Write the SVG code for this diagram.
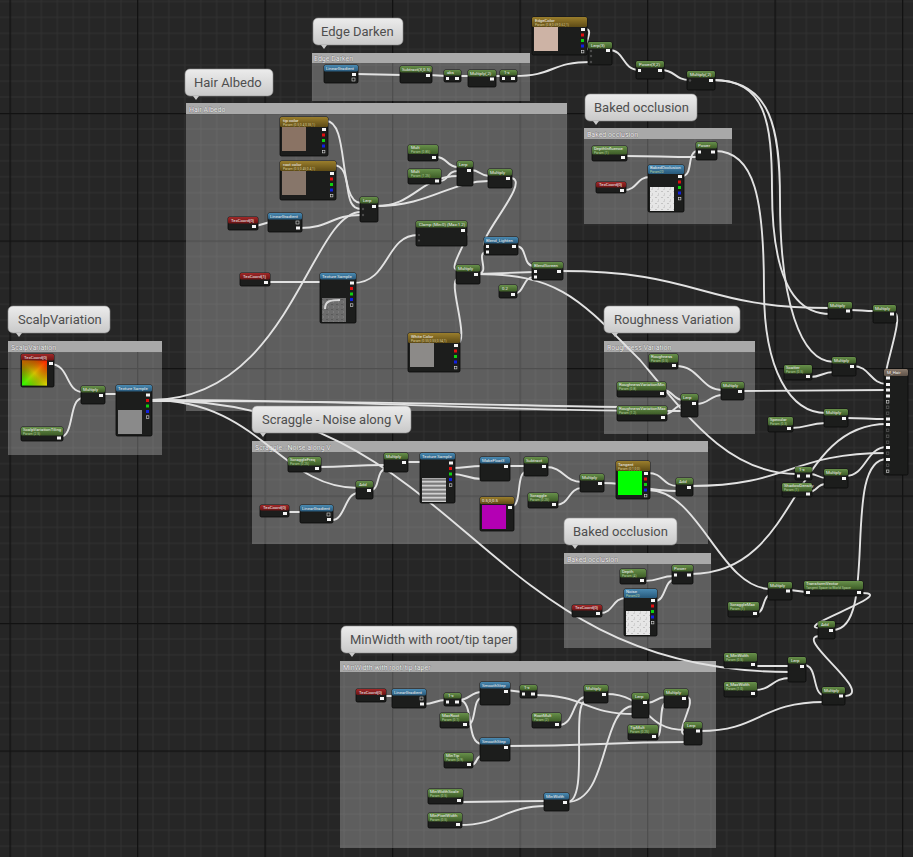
<svg xmlns="http://www.w3.org/2000/svg" width="913" height="857" viewBox="0 0 913 857">
<defs>
<style>
.nb{fill:#1c1d1c;stroke:#0a0a0a;stroke-width:.8}
.hg{fill:url(#gG)}.hr{fill:url(#gR)}.hb{fill:url(#gB)}.hy{fill:url(#gY)}.hm{fill:url(#gM)}
.nt{font-family:Roboto,"Liberation Sans",sans-serif;font-size:4.3px;fill:#f2f2f2}
.ns{font-family:Roboto,"Liberation Sans",sans-serif;font-size:3.3px;fill:#b9d6a0}
.nsy{font-family:Roboto,"Liberation Sans",sans-serif;font-size:3.3px;fill:#dccf96}
.po{fill:#f4f4f4}
.pi{fill:#4c4c4c}
.w{fill:none;stroke:#e2e2e2;stroke-width:1.9;stroke-linecap:round}
.cb{fill:#fff;fill-opacity:.26}
.ch{fill:#a9a9a9}
.ct{font-family:Roboto,"Liberation Sans",sans-serif;font-size:7px;fill:#f6f6f6;stroke:#5a5a5a;stroke-width:.5;paint-order:stroke}
.bb{fill:url(#gBub);stroke:#8e8e8e;stroke-width:.6}
.bt{font-family:Roboto,"Liberation Sans",sans-serif;font-size:13px;fill:#4e4e4e}
</style>
<linearGradient id="gG" x1="0" y1="0" x2="0" y2="1"><stop offset="0" stop-color="#67904a"/><stop offset="1" stop-color="#3d5c27"/></linearGradient>
<linearGradient id="gR" x1="0" y1="0" x2="0" y2="1"><stop offset="0" stop-color="#a02828"/><stop offset="1" stop-color="#6a1414"/></linearGradient>
<linearGradient id="gB" x1="0" y1="0" x2="0" y2="1"><stop offset="0" stop-color="#4a8ab2"/><stop offset="1" stop-color="#27587a"/></linearGradient>
<linearGradient id="gY" x1="0" y1="0" x2="0" y2="1"><stop offset="0" stop-color="#9a7e2c"/><stop offset="1" stop-color="#5e4b16"/></linearGradient>
<linearGradient id="gM" x1="0" y1="0" x2="0" y2="1"><stop offset="0" stop-color="#8a7a6c"/><stop offset="1" stop-color="#5e5248"/></linearGradient>
<linearGradient id="gBub" x1="0" y1="0" x2="0" y2="1"><stop offset="0" stop-color="#ececec"/><stop offset="1" stop-color="#c9c9c9"/></linearGradient>
<linearGradient id="gUV" x1="1" y1="0" x2="0" y2="1"><stop offset="0" stop-color="#ff1a00"/><stop offset=".5" stop-color="#d8c000"/><stop offset="1" stop-color="#22ff00"/></linearGradient>
<linearGradient id="gUV2" x1="0" y1="0" x2="1" y2="1"><stop offset="0" stop-color="#c03000" stop-opacity=".7"/><stop offset=".5" stop-color="#000" stop-opacity="0"/><stop offset="1" stop-color="#e8ff00" stop-opacity=".5"/></linearGradient>
<pattern id="grid" x="9.5" y="113" width="127.5" height="127.5" patternUnits="userSpaceOnUse">
<rect width="127.5" height="127.5" fill="#262626"/>
<path d="M15.94 0V127.5M31.88 0V127.5M47.81 0V127.5M63.75 0V127.5M79.69 0V127.5M95.63 0V127.5M111.56 0V127.5M0 15.94H127.5M0 31.88H127.5M0 47.81H127.5M0 63.75H127.5M0 79.69H127.5M0 95.63H127.5M0 111.56H127.5" stroke="#313131" stroke-width="1"/>
<path d="M0 .5H127.5M.5 0V127.5" stroke="#121212" stroke-width="1.6"/>
</pattern>
<pattern id="noise" width="6" height="6" patternUnits="userSpaceOnUse">
<rect width="6" height="6" fill="#e6e6e6"/><rect x="1" y="2" width="2" height="1" fill="#c4c4c4"/><rect x="4" y="4" width="1" height="2" fill="#cfcfcf"/><rect x="3" y="0" width="2" height="1" fill="#d2d2d2"/>
</pattern>
<pattern id="gnoise" width="5" height="5" patternUnits="userSpaceOnUse">
<rect width="5" height="5" fill="#6d6d6d"/><rect x="1" y="1" width="2" height="1" fill="#5a5a5a"/><rect x="3" y="3" width="1" height="2" fill="#7c7c7c"/>
</pattern>
<pattern id="stripes" width="24" height="4" patternUnits="userSpaceOnUse">
<rect width="24" height="4" fill="#9a9a9a"/><rect y="0" width="24" height="1.3" fill="#d0d0d0"/><rect y="2.3" width="24" height="1" fill="#6e6e6e"/>
</pattern>
<g id="rgbp"><rect class="po" width="4" height="3"/><rect y="5.5" width="3" height="3" fill="#e01010"/><rect y="11" width="3" height="3" fill="#10d010"/><rect y="16.5" width="3" height="3" fill="#1020e0"/><rect x=".3" y="22.3" width="2.6" height="2.6" fill="none" stroke="#ddd" stroke-width=".6"/></g>
</defs>

<rect width="913" height="857" fill="url(#grid)"/>

<g id="comments">
<rect class="cb" x="312" y="53" width="218" height="48"/><rect class="ch" x="312" y="53" width="218" height="10"/><text class="ct" x="314" y="61">Edge Darken</text>
<rect class="cb" x="186" y="103" width="381" height="308"/><rect class="ch" x="186" y="103" width="381" height="11"/><text class="ct" x="189" y="112">Hair Albedo</text>
<rect class="cb" x="584" y="128" width="148" height="96"/><rect class="ch" x="584" y="128" width="148" height="11"/><text class="ct" x="587" y="137">Baked occlusion</text>
<rect class="cb" x="8" y="341" width="154" height="114"/><rect class="ch" x="8" y="341" width="154" height="11"/><text class="ct" x="11" y="350">ScalpVariation</text>
<rect class="cb" x="604" y="341" width="151" height="93"/><rect class="ch" x="604" y="341" width="151" height="11"/><text class="ct" x="607" y="350">Roughness Variation</text>
<rect class="cb" x="252" y="441" width="456" height="103"/><rect class="ch" x="252" y="441" width="456" height="11"/><text class="ct" x="255" y="450">Scraggle - Noise along V</text>
<rect class="cb" x="564" y="553" width="147" height="95"/><rect class="ch" x="564" y="553" width="147" height="11"/><text class="ct" x="567" y="562">Baked occlusion</text>
<rect class="cb" x="340" y="661" width="376" height="187"/><rect class="ch" x="340" y="661" width="376" height="11"/><text class="ct" x="343" y="670">MinWidth with root/tip taper</text>
</g>

<g id="connectors">
<path class="w" d="M585,29 C597,29 578,50 591,50"/>
<path class="w" d="M514,76 C555,76 550,62 591,62"/>
<path class="w" d="M609,50 C625,50 622,70 639,70"/>
<path class="w" d="M661,70 C676,70 674,80 690,80"/>
<path class="w" d="M356,74 L402,75"/>
<path class="w" d="M429,75 L447,76"/>
<path class="w" d="M458,76 L471,76"/>
<path class="w" d="M493,76 L503,76"/>
<path class="w" d="M713,80 C765,80 772,120 772,190 C772,270 790,314 830,314"/>
<path class="w" d="M713,80 C772,80 780,130 780,200 C780,300 800,362 834,362"/>
<path class="w" d="M715,151 C755,151 764,200 764,290 C764,370 790,413 826,413"/>
<path class="w" d="M326,121 C350,121 337,203 361,203"/>
<path class="w" d="M333,165 C355,165 340,209 361,209"/>
<path class="w" d="M300,228 C330,228 331,215 361,215"/>
<path class="w" d="M256,226 L270,222"/>
<path class="w" d="M376,206 C415,206 420,176 458,176"/>
<path class="w" d="M376,206 C430,206 450,181 489,181"/>
<path class="w" d="M436,157 C448,157 446,167 458,167"/>
<path class="w" d="M439,181 C450,181 446,171 458,171"/>
<path class="w" d="M471,170 C480,170 480,176 489,176"/>
<path class="w" d="M510,178 C535,178 470,246 487,246"/>
<path class="w" d="M477,274 C492,274 474,252 487,252"/>
<path class="w" d="M462,230 C478,230 444,270 458,270"/>
<path class="w" d="M456,344 C472,344 446,279 458,279"/>
<path class="w" d="M516,246 C528,246 522,266 534,266"/>
<path class="w" d="M477,274 L534,272"/>
<path class="w" d="M513,294 C525,294 522,277 534,277"/>
<path class="w" d="M561,271 C700,271 700,308 830,308"/>
<path class="w" d="M477,274 C560,274 580,300 640,360 C690,420 730,474 797,474"/>
<path class="w" d="M267,282 L322,282"/>
<path class="w" d="M353,283 C390,283 385,235 418,235"/>
<path class="w" d="M151,400 C290,400 310,212 361,212"/>
<path class="w" d="M50,364 C70,364 65,392 83,392"/>
<path class="w" d="M60,437 C75,437 68,398 83,398"/>
<path class="w" d="M102,394 L118,394"/>
<path class="w" d="M151,400 C400,400 450,411 683,411"/>
<path class="w" d="M151,401 C380,401 480,405 620,407"/>
<path class="w" d="M151,400 C260,400 280,488 358,488"/>
<path class="w" d="M151,400 C470,400 470,672 790,672"/>
<path class="w" d="M625,156 C660,156 660,157 698,157"/>
<path class="w" d="M624,190 C638,190 636,177 650,177"/>
<path class="w" d="M682,176 C694,176 686,151 698,151"/>
<path class="w" d="M663,390 C673,390 673,400 683,400"/>
<path class="w" d="M665,414 C674,414 674,405 683,405"/>
<path class="w" d="M676,366 C700,366 700,390 723,390"/>
<path class="w" d="M696,404 C710,404 709,395 723,395"/>
<path class="w" d="M742,391 L887,390"/>
<path class="w" d="M850,310 C862,310 862,311 875,311"/>
<path class="w" d="M894,313 C906,313 880,378 887,378"/>
<path class="w" d="M810,377 C822,377 822,372 834,372"/>
<path class="w" d="M853,366 C870,366 870,384 887,384"/>
<path class="w" d="M791,428 C808,428 808,423 826,423"/>
<path class="w" d="M846,418 C866,418 866,419 887,419"/>
<path class="w" d="M810,474 C818,474 818,478 826,478"/>
<path class="w" d="M808,492 C818,492 816,484 826,484"/>
<path class="w" d="M846,476 C866,476 866,447 887,447"/>
<path class="w" d="M318,467 C350,467 350,465 386,465"/>
<path class="w" d="M371,490 C380,490 376,469 386,469"/>
<path class="w" d="M287,512 L302,512"/>
<path class="w" d="M332,520 C345,520 345,493 358,493"/>
<path class="w" d="M406,462 L422,462"/>
<path class="w" d="M452,468 C466,468 468,466 482,466"/>
<path class="w" d="M452,474 C466,474 468,479 482,479"/>
<path class="w" d="M508,466 L526,466"/>
<path class="w" d="M512,506 C522,506 516,472 526,472"/>
<path class="w" d="M546,467 C564,467 564,482 582,482"/>
<path class="w" d="M556,505 C570,505 568,488 582,488"/>
<path class="w" d="M602,483 C640,483 640,491 678,491"/>
<path class="w" d="M648,473 C664,473 662,486 678,486"/>
<path class="w" d="M691,486 C790,486 790,453 887,453"/>
<path class="w" d="M648,490 C700,490 720,589 771,589"/>
<path class="w" d="M600,613 C614,613 612,598 626,598"/>
<path class="w" d="M644,581 C660,581 660,576 674,576"/>
<path class="w" d="M655,601 C666,601 664,580 674,580"/>
<path class="w" d="M691,574 C800,574 790,424 887,424"/>
<path class="w" d="M790,590 L806,592"/>
<path class="w" d="M757,613 C765,613 762,595 771,595"/>
<path class="w" d="M862,593 C900,593 790,628 820,628"/>
<path class="w" d="M833,630 C880,630 840,459 887,459"/>
<path class="w" d="M843,696 C880,696 790,636 820,636"/>
<path class="w" d="M753,666 L790,666"/>
<path class="w" d="M755,690 C772,690 772,678 790,678"/>
<path class="w" d="M804,665 C818,665 812,695 824,695"/>
<path class="w" d="M700,731 C760,731 760,702 824,702"/>
<path class="w" d="M384,696 L394,696"/>
<path class="w" d="M424,704 C435,704 435,700 446,700"/>
<path class="w" d="M459,700 C470,700 470,692 482,692"/>
<path class="w" d="M459,700 C475,700 465,744 482,744"/>
<path class="w" d="M467,725 C477,725 472,698 482,698"/>
<path class="w" d="M471,765 C478,765 475,756 482,756"/>
<path class="w" d="M506,690 L522,692"/>
<path class="w" d="M535,695 C585,695 585,714 634,714"/>
<path class="w" d="M559,725 C575,725 572,697 586,697"/>
<path class="w" d="M606,694 C650,694 640,730 686,730"/>
<path class="w" d="M567,802 C590,802 570,701 586,701"/>
<path class="w" d="M567,802 C610,802 600,706 634,706"/>
<path class="w" d="M647,703 C656,703 656,697 666,697"/>
<path class="w" d="M656,737 C664,737 658,703 666,703"/>
<path class="w" d="M686,697 C700,697 672,735 686,735"/>
<path class="w" d="M506,746 C600,746 600,742 686,742"/>
<path class="w" d="M461,802 C500,802 505,801 546,801"/>
<path class="w" d="M460,825 C500,825 505,806 546,806"/>
</g>

<g id="nodes">
<g id="n-edgecolor" transform="translate(532,17)"><rect class="nb" width="55" height="38" rx="1.5"/><rect class="hy" width="55" height="10" rx="1.5"/><text class="nt" x="3" y="4.6">EdgeColor</text><text class="nsy" x="3" y="8.7">Param (0.8,0.69,0.62,1)</text><rect x="2" y="10" width="24" height="24" fill="#cdb3a5"/><use href="#rgbp" x="49" y="11"/></g>
<g id="n-lerp-top" transform="translate(588,42)"><rect class="nb" width="24" height="23" rx="1.5"/><rect class="hg" width="24" height="6.5" rx="1.5"/><text class="nt" x="3" y="4.8">Lerp(3)</text><rect class="po" x="18" y="7" width="4" height="3"/><circle class="pi" cx="3" cy="9" r="1.2"/><circle class="pi" cx="3" cy="14" r="1.2"/><circle class="pi" cx="3" cy="20" r="1.2"/></g>
<g id="n-power-top" transform="translate(636,61)"><rect class="nb" width="28" height="18" rx="1.5"/><rect class="hg" width="28" height="6.5" rx="1.5"/><text class="nt" x="3" y="4.8">Power(X,2)</text><rect class="po" x="22" y="8" width="4" height="3"/><rect class="po" x="2" y="8" width="3" height="3"/></g>
<g id="n-mul-top" transform="translate(687,71)"><rect class="nb" width="28" height="19" rx="1.5"/><rect class="hg" width="28" height="6.5" rx="1.5"/><text class="nt" x="3" y="4.8">Multiply(,2)</text><rect class="po" x="22" y="8" width="4" height="3"/><circle class="pi" cx="3" cy="9.5" r="1.2"/></g>

<g id="n-ed-lingrad" transform="translate(324,65)"><rect class="nb" width="34" height="18" rx="1.5"/><rect class="hb" width="34" height="6.5" rx="1.5"/><text class="nt" x="2" y="4.8">LinearGradient</text><rect class="po" x="28" y="8" width="4" height="3"/><rect x="28" y="13" width="3" height="3" fill="none" stroke="#ddd" stroke-width=".6"/></g>
<g id="n-ed-sub" transform="translate(400,66)"><rect class="nb" width="32" height="17" rx="1.5"/><rect class="hg" width="32" height="6.5" rx="1.5"/><text class="nt" x="2" y="4.8">Subtract(X,0.5)</text><rect class="po" x="26" y="8" width="4" height="3"/></g>
<g id="n-ed-abs" transform="translate(444,70)"><rect class="nb" width="17" height="12" rx="1.5"/><rect class="hg" width="17" height="5.5" rx="1.5"/><text class="nt" x="3" y="4.3">abs</text><rect class="po" x="2" y="7" width="3" height="3"/><rect class="po" x="11" y="7" width="4" height="3"/></g>
<g id="n-ed-mul" transform="translate(468,70)"><rect class="nb" width="28" height="17" rx="1.5"/><rect class="hg" width="28" height="6.5" rx="1.5"/><text class="nt" x="2" y="4.8">Multiply(,2)</text><rect class="po" x="22" y="7.5" width="4" height="3"/></g>
<g id="n-ed-1x" transform="translate(500,70)"><rect class="nb" width="17" height="12" rx="1.5"/><rect class="hg" width="17" height="5.5" rx="1.5"/><text class="nt" x="4" y="4.3">1-x</text><rect class="po" x="2" y="7" width="3" height="3"/><rect class="po" x="11" y="7" width="4" height="3"/></g>

<g id="n-tipcolor" transform="translate(280,117)"><rect class="nb" width="48" height="39" rx="1.5"/><rect class="hy" width="48" height="10" rx="1.5"/><text class="nt" x="3" y="4.6">tip color</text><text class="nsy" x="3" y="8.7">Param (0.5,0.4,0.35,1)</text><rect x="2" y="10" width="24" height="24" fill="#8a7364"/><use href="#rgbp" x="42" y="11"/></g>
<g id="n-rootcolor" transform="translate(280,161)"><rect class="nb" width="56" height="39" rx="1.5"/><rect class="hy" width="56" height="10" rx="1.5"/><text class="nt" x="3" y="4.6">root color</text><text class="nsy" x="3" y="8.7">Param (0.5,0.45,0.4,1)</text><rect x="2" y="10" width="24" height="24" fill="#87766a"/><use href="#rgbp" x="50" y="11"/></g>
<g id="n-ha-lerp" transform="translate(360,197)"><rect class="nb" width="18" height="25" rx="1.5"/><rect class="hg" width="18" height="6.5" rx="1.5"/><text class="nt" x="3" y="4.8">Lerp</text><rect class="po" x="12" y="8" width="4" height="3"/><circle class="pi" cx="3" cy="12" r="1.2"/><circle class="pi" cx="3" cy="18" r="1.2"/></g>
<g id="n-ha-tc0" transform="translate(228,217)"><rect class="nb" width="30" height="13" rx="1.5"/><rect class="hr" width="30" height="6.5" rx="1.5"/><text class="nt" x="3" y="4.8">TexCoord[0]</text><rect class="po" x="24" y="8" width="4" height="3"/></g>
<g id="n-ha-lingrad" transform="translate(268,213)"><rect class="nb" width="34" height="19" rx="1.5"/><rect class="hb" width="34" height="6.5" rx="1.5"/><text class="nt" x="2" y="4.8">LinearGradient</text><rect x="28" y="8" width="3" height="3" fill="none" stroke="#ddd" stroke-width=".6"/><rect class="po" x="28" y="13.5" width="4" height="3"/></g>
<g id="n-ha-mult1" transform="translate(408,145)"><rect class="nb" width="30" height="16" rx="1.5"/><rect class="hg" width="30" height="9" rx="1.5"/><text class="nt" x="3" y="4.4">Mult</text><text class="ns" x="3" y="8">Param (0.85)</text><rect class="po" x="24" y="11" width="4" height="3"/></g>
<g id="n-ha-mult2" transform="translate(408,169)"><rect class="nb" width="33" height="15" rx="1.5"/><rect class="hg" width="33" height="9" rx="1.5"/><text class="nt" x="3" y="4.4">Mult</text><text class="ns" x="3" y="8">Param (1.25)</text><rect class="po" x="27" y="10.5" width="4" height="3"/></g>
<g id="n-ha-lerp2" transform="translate(457,161)"><rect class="nb" width="16" height="25" rx="1.5"/><rect class="hg" width="16" height="6.5" rx="1.5"/><text class="nt" x="2" y="4.8">Lerp</text><rect class="po" x="10" y="8" width="4" height="3"/></g>
<g id="n-ha-mul" transform="translate(488,169)"><rect class="nb" width="24" height="19" rx="1.5"/><rect class="hg" width="24" height="6.5" rx="1.5"/><text class="nt" x="2" y="4.8">Multiply</text><rect class="po" x="18" y="8" width="4" height="3"/></g>
<g id="n-ha-clamp" transform="translate(416,221)"><rect class="nb" width="51" height="25" rx="1.5"/><rect class="hg" width="51" height="6.5" rx="1.5"/><text class="nt" x="3" y="4.8">Clamp (Min:0) (Max:1.2)</text><rect class="po" x="45" y="8" width="4" height="3"/><circle class="pi" cx="3" cy="14" r="1.1"/><circle class="pi" cx="3" cy="19.5" r="1.1"/></g>
<g id="n-ha-blend" transform="translate(484,237)"><rect class="nb" width="34" height="18" rx="1.5"/><rect class="hb" width="34" height="6.5" rx="1.5"/><text class="nt" x="2" y="4.8">Blend_Lighten</text><rect class="po" x="2" y="8" width="3" height="3"/><rect class="po" x="2" y="13.5" width="3" height="3"/><rect class="po" x="28" y="8" width="4" height="3"/></g>
<g id="n-ha-tc1" transform="translate(240,273)"><rect class="nb" width="30" height="13" rx="1.5"/><rect class="hr" width="30" height="6.5" rx="1.5"/><text class="nt" x="3" y="4.8">TexCoord[1]</text><rect class="po" x="24" y="8" width="4" height="3"/></g>
<g id="n-ha-tex" transform="translate(320,273)"><rect class="nb" width="36" height="50" rx="1.5"/><rect class="hb" width="36" height="6.5" rx="1.5"/><text class="nt" x="2" y="4.8">Texture Sample</text><rect x="2" y="25" width="24" height="24" fill="url(#gnoise)"/><path d="M5,36 C5,28 10,27 20,27" fill="none" stroke="#d8d8d8" stroke-width="2"/><use href="#rgbp" x="30" y="8.5"/></g>
<g id="n-ha-mul2" transform="translate(456,265)"><rect class="nb" width="24" height="19" rx="1.5"/><rect class="hg" width="24" height="6.5" rx="1.5"/><text class="nt" x="2" y="4.8">Multiply</text><rect class="po" x="18" y="8" width="4" height="3"/></g>
<g id="n-ha-lerp3" transform="translate(532,262)"><rect class="nb" width="31" height="18" rx="1.5"/><rect class="hg" width="31" height="6.5" rx="1.5"/><text class="nt" x="2" y="4.8">BlendScreen</text><rect class="po" x="2" y="8" width="3" height="3"/><rect class="po" x="2" y="13.5" width="3" height="3"/><rect class="po" x="25" y="8" width="4" height="3"/></g>
<g id="n-ha-const" transform="translate(499,285)"><rect class="nb" width="18" height="13" rx="1.5"/><rect class="hg" width="18" height="6.5" rx="1.5"/><text class="nt" x="3" y="4.8">0.2</text><rect class="po" x="12" y="8" width="4" height="3"/></g>
<g id="n-ha-white" transform="translate(408,333)"><rect class="nb" width="52" height="39" rx="1.5"/><rect class="hy" width="52" height="10" rx="1.5"/><text class="nt" x="3" y="4.6">White Color</text><text class="nsy" x="3" y="8.7">Param (0.55,0.55,0.54,1)</text><rect x="2" y="10" width="24" height="24" fill="#8c8a88"/><use href="#rgbp" x="46" y="11"/></g>

<g id="n-sv-tc" transform="translate(21,354)"><rect class="nb" width="33" height="33" rx="1.5"/><rect class="hr" width="33" height="6.5" rx="1.5"/><text class="nt" x="3" y="4.8">TexCoord[0]</text><rect x="1" y="6.5" width="25" height="25" fill="url(#gUV)"/><rect x="1" y="6.5" width="25" height="25" fill="url(#gUV2)"/><rect class="po" x="28" y="8" width="4" height="3"/></g>
<g id="n-sv-mul" transform="translate(81,386)"><rect class="nb" width="24" height="18" rx="1.5"/><rect class="hg" width="24" height="6.5" rx="1.5"/><text class="nt" x="2" y="4.8">Multiply</text><rect class="po" x="18" y="8" width="4" height="3"/></g>
<g id="n-sv-tiling" transform="translate(21,427)"><rect class="nb" width="42" height="14" rx="1.5"/><rect class="hg" width="42" height="8.5" rx="1.5"/><text class="nt" x="2" y="4.4">ScalpVariationTiling</text><text class="ns" x="2" y="7.9">Param (2.5)</text><rect class="po" x="36" y="9.5" width="4" height="3"/></g>
<g id="n-sv-tex" transform="translate(116,385)"><rect class="nb" width="36" height="51" rx="1.5"/><rect class="hb" width="36" height="6.5" rx="1.5"/><text class="nt" x="2" y="4.8">Texture Sample</text><rect x="2" y="25" width="24" height="24" fill="#8a8a8a"/><use href="#rgbp" x="30" y="8.5"/></g>

<g id="n-bo1-param" transform="translate(592,146)"><rect class="nb" width="35" height="15" rx="1.5"/><rect class="hg" width="35" height="8.5" rx="1.5"/><text class="nt" x="2" y="4.4">DepthInfluence</text><text class="ns" x="2" y="7.9">Param (1)</text><rect class="po" x="29" y="10" width="4" height="3"/></g>
<g id="n-bo1-tc" transform="translate(596,182)"><rect class="nb" width="30" height="11" rx="1.5"/><rect class="hr" width="30" height="5.5" rx="1.5"/><text class="nt" x="3" y="4.3">TexCoord[0]</text><rect class="po" x="24" y="7" width="4" height="3"/></g>
<g id="n-bo1-tex" transform="translate(648,165)"><rect class="nb" width="36" height="47" rx="1.5"/><rect class="hb" width="36" height="9" rx="1.5"/><text class="nt" x="2" y="4.4">BakedOcclusion</text><text class="ns" x="2" y="7.9" fill="#a8d0ec">Param2D</text><rect x="2" y="22" width="24" height="24" fill="url(#noise)"/><use href="#rgbp" x="30" y="10"/></g>
<g id="n-bo1-pow" transform="translate(696,142)"><rect class="nb" width="21" height="18" rx="1.5"/><rect class="hg" width="21" height="6.5" rx="1.5"/><text class="nt" x="2" y="4.8">Power</text><rect class="po" x="2" y="8.5" width="3" height="3"/><rect class="po" x="15" y="8.5" width="4" height="3"/></g>

<g id="n-rv-rough" transform="translate(649,354)"><rect class="nb" width="29" height="15" rx="1.5"/><rect class="hg" width="29" height="8.5" rx="1.5"/><text class="nt" x="2" y="4.4">Roughness</text><text class="ns" x="2" y="7.9">Param (0.5)</text><rect class="po" x="23" y="10" width="4" height="3"/></g>
<g id="n-rv-min" transform="translate(617,382)"><rect class="nb" width="49" height="15" rx="1.5"/><rect class="hg" width="49" height="8.5" rx="1.5"/><text class="nt" x="2" y="4.4">RoughnessVariationMin</text><text class="ns" x="2" y="7.9">Param (0.8)</text><rect class="po" x="43" y="10" width="4" height="3"/></g>
<g id="n-rv-max" transform="translate(617,406)"><rect class="nb" width="50" height="15" rx="1.5"/><rect class="hg" width="50" height="8.5" rx="1.5"/><text class="nt" x="2" y="4.4">RoughnessVariationMax</text><text class="ns" x="2" y="7.9">Param (1.2)</text><rect class="po" x="44" y="10" width="4" height="3"/></g>
<g id="n-rv-lerp" transform="translate(681,394)"><rect class="nb" width="17" height="23" rx="1.5"/><rect class="hg" width="17" height="6.5" rx="1.5"/><text class="nt" x="2" y="4.8">Lerp</text><rect class="po" x="11" y="8" width="4" height="3"/></g>
<g id="n-rv-mul" transform="translate(721,382)"><rect class="nb" width="23" height="18" rx="1.5"/><rect class="hg" width="23" height="6.5" rx="1.5"/><text class="nt" x="2" y="4.8">Multiply</text><rect class="po" x="17" y="8" width="4" height="3"/></g>

<g id="n-r-mul1" transform="translate(828,302)"><rect class="nb" width="24" height="17" rx="1.5"/><rect class="hg" width="24" height="6.5" rx="1.5"/><text class="nt" x="2" y="4.8">Multiply</text><rect class="po" x="18" y="7.5" width="4" height="3"/></g>
<g id="n-r-mul2" transform="translate(873,305)"><rect class="nb" width="23" height="18" rx="1.5"/><rect class="hg" width="23" height="6.5" rx="1.5"/><text class="nt" x="2" y="4.8">Multiply</text><rect class="po" x="17" y="7.5" width="4" height="3"/></g>
<g id="n-r-scatter" transform="translate(784,365)"><rect class="nb" width="28" height="15" rx="1.5"/><rect class="hg" width="28" height="8.5" rx="1.5"/><text class="nt" x="2" y="4.4">Scatter</text><text class="ns" x="2" y="7.9">Param (0.5)</text><rect class="po" x="22" y="10" width="4" height="3"/></g>
<g id="n-r-mul3" transform="translate(832,357)"><rect class="nb" width="24" height="19" rx="1.5"/><rect class="hg" width="24" height="6.5" rx="1.5"/><text class="nt" x="2" y="4.8">Multiply</text><rect class="po" x="18" y="8" width="4" height="3"/></g>
<g id="n-r-spec" transform="translate(768,417)"><rect class="nb" width="25" height="15" rx="1.5"/><rect class="hg" width="25" height="8.5" rx="1.5"/><text class="nt" x="2" y="4.4">Specular</text><text class="ns" x="2" y="7.9">Param (0.3)</text><rect class="po" x="19" y="10" width="4" height="3"/></g>
<g id="n-r-mul4" transform="translate(824,409)"><rect class="nb" width="24" height="18" rx="1.5"/><rect class="hg" width="24" height="6.5" rx="1.5"/><text class="nt" x="2" y="4.8">Multiply</text><rect class="po" x="18" y="8" width="4" height="3"/></g>
<g id="n-mhair" transform="translate(884,369)"><rect class="nb" width="24" height="106" rx="1.5"/><rect class="hm" width="24" height="7" rx="1.5"/><text class="nt" x="3" y="5">M_Hair</text>
<rect class="po" x="2" y="7.5" width="4" height="3"/><rect class="po" x="2" y="14" width="4" height="3"/><rect class="po" x="2" y="19.5" width="4" height="3"/><rect class="po" x="2" y="25.5" width="4" height="3"/><rect x="2.3" y="31.5" width="2.6" height="2.6" fill="none" stroke="#ddd" stroke-width=".6"/><rect x="2.3" y="37" width="2.6" height="2.6" fill="none" stroke="#666" stroke-width=".6"/><rect x="2.3" y="43" width="2.6" height="2.6" fill="none" stroke="#666" stroke-width=".6"/><rect class="po" x="2" y="48.5" width="4" height="3"/><rect class="po" x="2" y="54" width="4" height="3"/><rect x="2.3" y="60" width="2.6" height="2.6" fill="none" stroke="#666" stroke-width=".6"/><rect x="2.3" y="66" width="2.6" height="2.6" fill="none" stroke="#666" stroke-width=".6"/><rect x="2.3" y="72" width="2.6" height="2.6" fill="none" stroke="#666" stroke-width=".6"/><rect class="po" x="2" y="77" width="4" height="3"/><rect x="2.3" y="83" width="2.6" height="2.6" fill="none" stroke="#666" stroke-width=".6"/><rect class="po" x="2" y="89" width="4" height="3"/><rect x="2.3" y="95" width="2.6" height="2.6" fill="none" stroke="#666" stroke-width=".6"/><rect x="2.3" y="101" width="2.6" height="2.6" fill="none" stroke="#ddd" stroke-width=".6"/></g>
<g id="n-r-1x" transform="translate(795,467)"><rect class="nb" width="17" height="13" rx="1.5"/><rect class="hg" width="17" height="5.5" rx="1.5"/><text class="nt" x="4" y="4.3">1-x</text><rect class="po" x="2" y="7.5" width="3" height="3"/><rect class="po" x="11" y="7.5" width="4" height="3"/></g>
<g id="n-r-mul5" transform="translate(824,469)"><rect class="nb" width="24" height="19" rx="1.5"/><rect class="hg" width="24" height="6.5" rx="1.5"/><text class="nt" x="2" y="4.8">Multiply</text><rect class="po" x="18" y="8" width="4" height="3"/></g>
<g id="n-r-shadow" transform="translate(782,483)"><rect class="nb" width="30" height="14" rx="1.5"/><rect class="hg" width="30" height="8.5" rx="1.5"/><text class="nt" x="2" y="4.4">ShadowDensity</text><text class="ns" x="2" y="7.9">Param (1)</text><rect class="po" x="24" y="9.5" width="4" height="3"/></g>

<g id="n-sc-freq" transform="translate(288,457)"><rect class="nb" width="33" height="15" rx="1.5"/><rect class="hg" width="33" height="8.5" rx="1.5"/><text class="nt" x="2" y="4.4">ScraggleFreq</text><text class="ns" x="2" y="7.9">Param (0.25)</text><rect class="po" x="27" y="10" width="4" height="3"/></g>
<g id="n-sc-mul" transform="translate(384,453)"><rect class="nb" width="24" height="19" rx="1.5"/><rect class="hg" width="24" height="6.5" rx="1.5"/><text class="nt" x="2" y="4.8">Multiply</text><rect class="po" x="18" y="8" width="4" height="3"/></g>
<g id="n-sc-add" transform="translate(356,481)"><rect class="nb" width="17" height="18" rx="1.5"/><rect class="hg" width="17" height="6.5" rx="1.5"/><text class="nt" x="3" y="4.8">Add</text><rect class="po" x="11" y="8" width="4" height="3"/></g>
<g id="n-sc-tc" transform="translate(260,505)"><rect class="nb" width="29" height="12" rx="1.5"/><rect class="hr" width="29" height="5.5" rx="1.5"/><text class="nt" x="3" y="4.3">TexCoord[0]</text><rect class="po" x="23" y="7" width="4" height="3"/></g>
<g id="n-sc-lingrad" transform="translate(300,505)"><rect class="nb" width="33" height="18" rx="1.5"/><rect class="hb" width="33" height="6.5" rx="1.5"/><text class="nt" x="2" y="4.8">LinearGradient</text><rect x="27" y="8" width="3" height="3" fill="none" stroke="#ddd" stroke-width=".6"/><rect class="po" x="27" y="13" width="4" height="3"/></g>
<g id="n-sc-tex" transform="translate(420,453)"><rect class="nb" width="35" height="50" rx="1.5"/><rect class="hb" width="35" height="6.5" rx="1.5"/><text class="nt" x="2" y="4.8">Texture Sample</text><rect x="2" y="25" width="24" height="24" fill="url(#stripes)"/><use href="#rgbp" x="29" y="8.5"/></g>
<g id="n-sc-make" transform="translate(480,457)"><rect class="nb" width="30" height="24" rx="1.5"/><rect class="hb" width="30" height="6.5" rx="1.5"/><text class="nt" x="2" y="4.8">MakeFloat3</text><rect class="po" x="24" y="8" width="4" height="3"/></g>
<g id="n-sc-const" transform="translate(480,497)"><rect class="nb" width="34" height="34" rx="1.5"/><rect class="hy" width="34" height="7" rx="1.5"/><text class="nt" x="2" y="4.9">0.5,0,0.5</text><rect x="2" y="8" width="24" height="24" fill="#b400b4"/><rect class="po" x="28" y="9" width="4" height="3"/></g>
<g id="n-sc-sub" transform="translate(524,457)"><rect class="nb" width="24" height="19" rx="1.5"/><rect class="hg" width="24" height="6.5" rx="1.5"/><text class="nt" x="2" y="4.8">Subtract</text><rect class="po" x="18" y="8" width="4" height="3"/></g>
<g id="n-sc-scraggle" transform="translate(528,493)"><rect class="nb" width="30" height="15" rx="1.5"/><rect class="hg" width="30" height="8.5" rx="1.5"/><text class="nt" x="2" y="4.4">Scraggle</text><text class="ns" x="2" y="7.9">Param (0.25)</text><rect class="po" x="24" y="10" width="4" height="3"/></g>
<g id="n-sc-mul2" transform="translate(580,474)"><rect class="nb" width="24" height="18" rx="1.5"/><rect class="hg" width="24" height="6.5" rx="1.5"/><text class="nt" x="2" y="4.8">Multiply</text><rect class="po" x="18" y="8" width="4" height="3"/></g>
<g id="n-sc-tangent" transform="translate(616,461)"><rect class="nb" width="34" height="38" rx="1.5"/><rect class="hy" width="34" height="10" rx="1.5"/><text class="nt" x="2" y="4.6">Tangent</text><text class="nsy" x="2" y="8.7">Param (0,1,0,0)</text><rect x="2" y="10" width="24" height="24" fill="#00ff00"/><use href="#rgbp" x="28" y="11"/></g>
<g id="n-sc-add2" transform="translate(676,478)"><rect class="nb" width="17" height="18" rx="1.5"/><rect class="hg" width="17" height="6.5" rx="1.5"/><text class="nt" x="3" y="4.8">Add</text><rect class="po" x="11" y="8" width="4" height="3"/></g>

<g id="n-bo2-param" transform="translate(620,569)"><rect class="nb" width="26" height="15" rx="1.5"/><rect class="hg" width="26" height="8.5" rx="1.5"/><text class="nt" x="2" y="4.4">Depth</text><text class="ns" x="2" y="7.9">Param (4)</text><rect class="po" x="20" y="10" width="4" height="3"/></g>
<g id="n-bo2-tc" transform="translate(572,605)"><rect class="nb" width="30" height="12" rx="1.5"/><rect class="hr" width="30" height="5.5" rx="1.5"/><text class="nt" x="3" y="4.3">TexCoord[0]</text><rect class="po" x="24" y="7" width="4" height="3"/></g>
<g id="n-bo2-tex" transform="translate(624,589)"><rect class="nb" width="33" height="47" rx="1.5"/><rect class="hb" width="33" height="9" rx="1.5"/><text class="nt" x="2" y="4.4">Noise</text><text class="ns" x="2" y="7.9" fill="#a8d0ec">Param2D</text><rect x="2" y="22" width="24" height="24" fill="url(#noise)"/><use href="#rgbp" x="27" y="10"/></g>
<g id="n-bo2-pow" transform="translate(672,565)"><rect class="nb" width="21" height="19" rx="1.5"/><rect class="hg" width="21" height="6.5" rx="1.5"/><text class="nt" x="2" y="4.8">Power</text><rect class="po" x="2" y="8.5" width="3" height="3"/><rect class="po" x="15" y="8.5" width="4" height="3"/></g>

<g id="n-rb-mul" transform="translate(768,582)"><rect class="nb" width="24" height="18" rx="1.5"/><rect class="hg" width="24" height="6.5" rx="1.5"/><text class="nt" x="2" y="4.8">Multiply</text><rect class="po" x="18" y="7.5" width="4" height="3"/></g>
<g id="n-rb-tv" transform="translate(804,581)"><rect class="nb" width="59" height="15" rx="1.5"/><rect class="hg" width="59" height="8.5" rx="1.5"/><text class="nt" x="2" y="4.4">TransformVector</text><text class="ns" x="2" y="7.9">Tangent Space to World Space</text><rect class="po" x="2" y="10" width="4" height="3"/><rect class="po" x="53" y="10" width="4" height="3"/></g>
<g id="n-rb-smax" transform="translate(728,602)"><rect class="nb" width="31" height="15" rx="1.5"/><rect class="hg" width="31" height="8.5" rx="1.5"/><text class="nt" x="2" y="4.4">ScraggleMax</text><text class="ns" x="2" y="7.9">Param (1)</text><rect class="po" x="25" y="10" width="4" height="3"/></g>
<g id="n-rb-add" transform="translate(818,621)"><rect class="nb" width="17" height="18" rx="1.5"/><rect class="hg" width="17" height="6.5" rx="1.5"/><text class="nt" x="3" y="4.8">Add</text><rect class="po" x="11" y="8" width="4" height="3"/></g>
<g id="n-rb-p1" transform="translate(724,653)"><rect class="nb" width="33" height="15" rx="1.5"/><rect class="hg" width="33" height="8.5" rx="1.5"/><text class="nt" x="2" y="4.4">a_MinWidth</text><text class="ns" x="2" y="7.9">Param (0.5)</text><rect class="po" x="27" y="10" width="4" height="3"/></g>
<g id="n-rb-p2" transform="translate(724,682)"><rect class="nb" width="33" height="15" rx="1.5"/><rect class="hg" width="33" height="8.5" rx="1.5"/><text class="nt" x="2" y="4.4">a_MaxWidth</text><text class="ns" x="2" y="7.9">Param (1.0)</text><rect class="po" x="27" y="10" width="4" height="3"/></g>
<g id="n-rb-lerp" transform="translate(788,657)"><rect class="nb" width="18" height="25" rx="1.5"/><rect class="hg" width="18" height="6.5" rx="1.5"/><text class="nt" x="3" y="4.8">Lerp</text><rect class="po" x="12" y="8" width="4" height="3"/></g>
<g id="n-rb-mul2" transform="translate(822,687)"><rect class="nb" width="23" height="18" rx="1.5"/><rect class="hg" width="23" height="6.5" rx="1.5"/><text class="nt" x="2" y="4.8">Multiply</text><rect class="po" x="17" y="7.5" width="4" height="3"/></g>

<g id="n-mw-tc" transform="translate(356,689)"><rect class="nb" width="30" height="13" rx="1.5"/><rect class="hr" width="30" height="6" rx="1.5"/><text class="nt" x="3" y="4.6">TexCoord[0]</text><rect class="po" x="24" y="8" width="4" height="3"/></g>
<g id="n-mw-lingrad" transform="translate(392,689)"><rect class="nb" width="34" height="19" rx="1.5"/><rect class="hb" width="34" height="6.5" rx="1.5"/><text class="nt" x="2" y="4.8">LinearGradient</text><rect x="28" y="8" width="3" height="3" fill="none" stroke="#ddd" stroke-width=".6"/><rect class="po" x="28" y="13.5" width="4" height="3"/></g>
<g id="n-mw-1x" transform="translate(444,693)"><rect class="nb" width="17" height="13" rx="1.5"/><rect class="hg" width="17" height="5.5" rx="1.5"/><text class="nt" x="4" y="4.3">1-x</text><rect class="po" x="2" y="7.5" width="3" height="3"/><rect class="po" x="11" y="7.5" width="4" height="3"/></g>
<g id="n-mw-ss1" transform="translate(480,682)"><rect class="nb" width="30" height="23" rx="1.5"/><rect class="hb" width="30" height="6.5" rx="1.5"/><text class="nt" x="2" y="4.8">SmoothStep</text><rect class="po" x="24" y="8" width="4" height="3"/></g>
<g id="n-mw-ss2" transform="translate(480,738)"><rect class="nb" width="30" height="23" rx="1.5"/><rect class="hb" width="30" height="6.5" rx="1.5"/><text class="nt" x="2" y="4.8">SmoothStep</text><rect class="po" x="24" y="8" width="4" height="3"/></g>
<g id="n-mw-maxroot" transform="translate(440,713)"><rect class="nb" width="29" height="15" rx="1.5"/><rect class="hg" width="29" height="8.5" rx="1.5"/><text class="nt" x="2" y="4.4">MaxRoot</text><text class="ns" x="2" y="7.9">Param (0.1)</text><rect class="po" x="23" y="10" width="4" height="3"/></g>
<g id="n-mw-mintip" transform="translate(444,753)"><rect class="nb" width="29" height="15" rx="1.5"/><rect class="hg" width="29" height="8.5" rx="1.5"/><text class="nt" x="2" y="4.4">MinTip</text><text class="ns" x="2" y="7.9">Param (0.9)</text><rect class="po" x="23" y="10" width="4" height="3"/></g>
<g id="n-mw-1x2" transform="translate(520,685)"><rect class="nb" width="17" height="13" rx="1.5"/><rect class="hg" width="17" height="5.5" rx="1.5"/><text class="nt" x="4" y="4.3">1-x</text><rect class="po" x="2" y="7.5" width="3" height="3"/><rect class="po" x="11" y="7.5" width="4" height="3"/></g>
<g id="n-mw-rootmult" transform="translate(532,713)"><rect class="nb" width="29" height="15" rx="1.5"/><rect class="hg" width="29" height="8.5" rx="1.5"/><text class="nt" x="2" y="4.4">RootMult</text><text class="ns" x="2" y="7.9">Param (2)</text><rect class="po" x="23" y="10" width="4" height="3"/></g>
<g id="n-mw-mul" transform="translate(584,685)"><rect class="nb" width="24" height="18" rx="1.5"/><rect class="hg" width="24" height="6.5" rx="1.5"/><text class="nt" x="2" y="4.8">Multiply</text><rect class="po" x="18" y="8" width="4" height="3"/></g>
<g id="n-mw-lerp" transform="translate(632,693)"><rect class="nb" width="17" height="25" rx="1.5"/><rect class="hg" width="17" height="6.5" rx="1.5"/><text class="nt" x="3" y="4.8">Lerp</text><rect class="po" x="11" y="8" width="4" height="3"/></g>
<g id="n-mw-mul2" transform="translate(664,689)"><rect class="nb" width="24" height="19" rx="1.5"/><rect class="hg" width="24" height="6.5" rx="1.5"/><text class="nt" x="2" y="4.8">Multiply</text><rect class="po" x="18" y="8" width="4" height="3"/></g>
<g id="n-mw-tipmult" transform="translate(628,725)"><rect class="nb" width="30" height="15" rx="1.5"/><rect class="hg" width="30" height="8.5" rx="1.5"/><text class="nt" x="2" y="4.4">TipMult</text><text class="ns" x="2" y="7.9">Param (0.25)</text><rect class="po" x="24" y="10" width="4" height="3"/></g>
<g id="n-mw-lerp2" transform="translate(684,722)"><rect class="nb" width="18" height="23" rx="1.5"/><rect class="hg" width="18" height="6.5" rx="1.5"/><text class="nt" x="3" y="4.8">Lerp</text><rect class="po" x="12" y="7.5" width="4" height="3"/></g>
<g id="n-mw-scale" transform="translate(428,789)"><rect class="nb" width="35" height="15" rx="1.5"/><rect class="hg" width="35" height="8.5" rx="1.5"/><text class="nt" x="2" y="4.4">MinWidthScale</text><text class="ns" x="2" y="7.9">Param (0.5)</text><rect class="po" x="29" y="10" width="4" height="3"/></g>
<g id="n-mw-pix" transform="translate(428,813)"><rect class="nb" width="34" height="15" rx="1.5"/><rect class="hg" width="34" height="8.5" rx="1.5"/><text class="nt" x="2" y="4.4">MinPixelWidth</text><text class="ns" x="2" y="7.9">Param (0.5)</text><rect class="po" x="28" y="10" width="4" height="3"/></g>
<g id="n-mw-func" transform="translate(544,793)"><rect class="nb" width="25" height="18" rx="1.5"/><rect class="hb" width="25" height="6.5" rx="1.5"/><text class="nt" x="2" y="4.8">MinWidth</text><rect class="po" x="19" y="8" width="4" height="3"/></g>
</g>

<g id="bubbles">
<rect class="bb" x="313" y="18" width="90" height="27" rx="5"/><path d="M321,45 L324,49 L327,45Z" fill="#c9c9c9"/><text class="bt" x="321" y="36">Edge Darken</text>
<rect class="bb" x="185" y="69" width="88" height="27" rx="5"/><path d="M193,96 L196,100 L199,96Z" fill="#c9c9c9"/><text class="bt" x="194" y="87">Hair Albedo</text>
<rect class="bb" x="585" y="94" width="112" height="27" rx="5"/><path d="M593,121 L596,125 L599,121Z" fill="#c9c9c9"/><text class="bt" x="594" y="112">Baked occlusion</text>
<rect class="bb" x="8" y="306" width="102" height="27" rx="5"/><path d="M16,333 L19,337 L22,333Z" fill="#c9c9c9"/><text class="bt" x="18" y="324">ScalpVariation</text>
<rect class="bb" x="604" y="306" width="136" height="27" rx="5"/><path d="M612,333 L615,337 L618,333Z" fill="#c9c9c9"/><text class="bt" x="614" y="324">Roughness Variation</text>
<rect class="bb" x="252" y="406" width="159" height="27" rx="5"/><path d="M260,433 L263,437 L266,433Z" fill="#c9c9c9"/><text class="bt" x="262" y="424">Scraggle - Noise along V</text>
<rect class="bb" x="564" y="518" width="113" height="27" rx="5"/><path d="M572,545 L575,549 L578,545Z" fill="#c9c9c9"/><text class="bt" x="573" y="536">Baked occlusion</text>
<rect class="bb" x="341" y="626" width="176" height="27" rx="5"/><path d="M349,653 L352,657 L355,653Z" fill="#c9c9c9"/><text class="bt" x="350" y="644">MinWidth with root/tip taper</text>
</g>
</svg>
